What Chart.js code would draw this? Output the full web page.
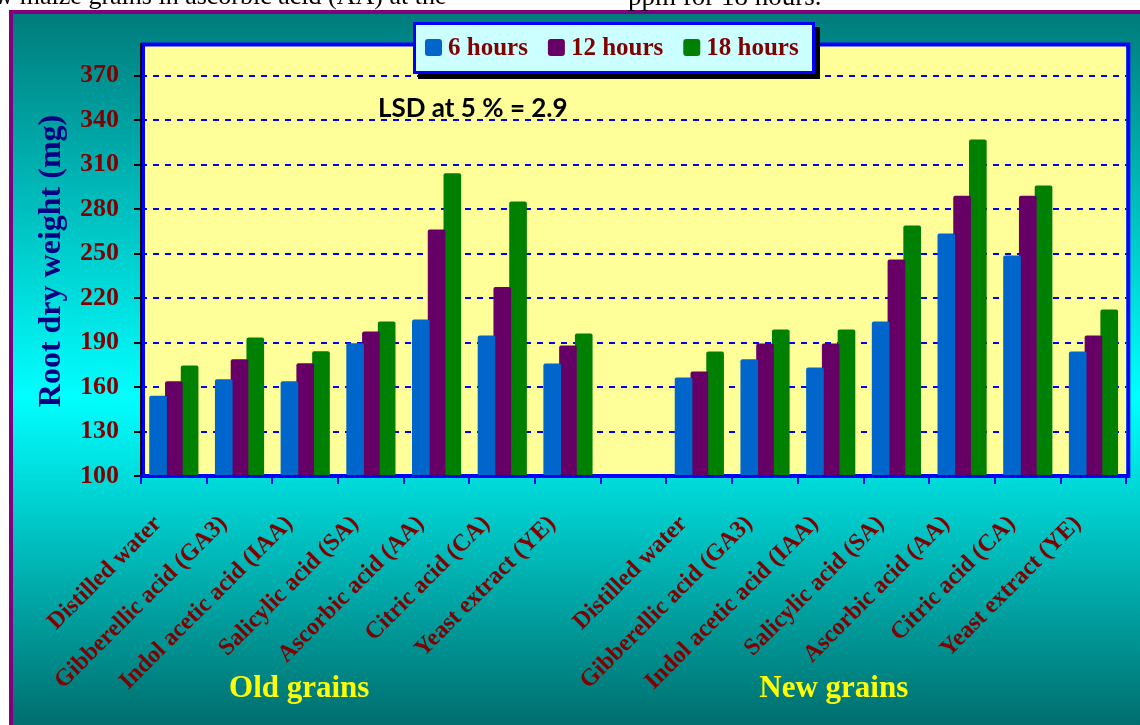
<!DOCTYPE html>
<html lang="en">

<head>
    <meta charset="UTF-8">
    <title>Root dry weight</title>
    <script src="https://cdn.jsdelivr.net/npm/chart.js"></script>
    <style>
        body { margin: 0; background: #ffffff; }
        .wrap { position: relative; width: 1140px; height: 725px; overflow: hidden; }
        .legenda-topo {
            position: absolute; top: -17px; white-space: nowrap;
            font-family: "Liberation Serif", "Times New Roman", serif; font-size: 26px; line-height: 26px; color: #000;
        }
    </style>
</head>

<body>
    <div class="wrap">
        <canvas id="graficoRaiz"></canvas>
        <div class="legenda-topo" style="left:-17px">ew maize grains in ascorbic acid (AA) at the</div>
        <div class="legenda-topo" style="left:628px; font-size:27px">ppm for 18 hours.</div>
    </div>

<script>
    // dados
    const tratamentos = ['Distilled water', 'Gibberellic acid (GA3)', 'Indol acetic acid (IAA)',
        'Salicylic acid (SA)', 'Ascorbic acid (AA)', 'Citric acid (CA)', 'Yeast extract (YE)'];
    const grupos = ['Old grains', 'New grains'];
    const series = ['6 hours', '12 hours', '18 hours'];

    const h6Old = [154.2, 165.3, 163.9, 189.6, 205.5, 194.7, 175.8];
    const h6New = [166.4, 178.8, 173.1, 204.2, 263.5, 248.7, 183.9];
    const h12Old = [163.9, 178.8, 176.1, 197.4, 266.2, 227.4, 188.0];
    const h12New = [170.4, 189.3, 189.3, 246.0, 289.0, 289.0, 194.7];
    const h18Old = [174.5, 193.4, 184.2, 204.2, 304.1, 285.2, 196.1];
    const h18New = [183.9, 198.8, 198.8, 268.9, 327.0, 296.0, 212.3];

    const yTicks = [100, 130, 160, 190, 220, 250, 280, 310, 340, 370];
    const lsdTexto = 'LSD at 5 % = 2.9';

    const labels = [...tratamentos, '', ...tratamentos];
    const juntar = (a, b) => [...a, null, ...b];

    const SERIF = '"Liberation Serif", "Times New Roman", serif';
    const coresBarras = ['#0066CC', '#660066', '#008000'];

    const fundoPlugin = {
        id: 'fundo',
        beforeDraw(chart) {
            const ctx = chart.ctx;
            const a = chart.chartArea;
            ctx.save();
            ctx.fillStyle = '#ffffff';
            ctx.fillRect(0, 0, chart.width, chart.height);
            const g = ctx.createLinearGradient(0, 12, 0, chart.height);
            g.addColorStop(0, '#007b7b');
            g.addColorStop(0.54, '#00ffff');
            g.addColorStop(1, '#006e6e');
            ctx.fillStyle = g;
            ctx.fillRect(11, 12, chart.width, chart.height);
            ctx.strokeStyle = '#800080';
            ctx.lineWidth = 4;
            ctx.strokeRect(11, 12, chart.width + 10, chart.height + 10);
            ctx.fillStyle = '#ffff99';
            ctx.fillRect(a.left, a.top, a.right - a.left, a.bottom - a.top);
            ctx.restore();
        },
        beforeDatasetsDraw(chart) {
            const ctx = chart.ctx;
            const a = chart.chartArea;
            ctx.save();
            ctx.strokeStyle = '#0000ff';
            ctx.lineWidth = 4;
            ctx.strokeRect(a.left + 2, a.top - 1.5, a.right - a.left, a.bottom - a.top + 1.5);
            ctx.strokeStyle = '#000000';
            ctx.lineWidth = 2;
            ctx.beginPath();
            ctx.moveTo(a.left, a.top - 3);
            ctx.lineTo(a.left, a.bottom + 2);
            ctx.stroke();
            ctx.restore();
        },
        afterDraw(chart) {
            const ctx = chart.ctx;
            const x = chart.scales.x;
            ctx.save();

            // LSD
            ctx.fillStyle = '#000000';
            ctx.font = 'bold 26px Lato, "Open Sans", sans-serif';
            ctx.textAlign = 'left';
            ctx.textBaseline = 'alphabetic';
            ctx.fillText(lsdTexto, 378, 117);

            // grupos
            ctx.fillStyle = '#ffff00';
            ctx.font = 'bold 31px ' + SERIF;
            ctx.textAlign = 'center';
            ctx.textBaseline = 'middle';
            ctx.fillText(grupos[0], x.getPixelForValue(2) - 6, 689);
            ctx.fillText(grupos[1], x.getPixelForValue(10) + 3, 689);

            // legenda
            const bx = 413, by = 22, bw = 402, bh = 52;
            ctx.fillStyle = '#000000';
            ctx.fillRect(bx + 5, by + 5, bw, bh);
            ctx.fillStyle = '#ccffff';
            ctx.fillRect(bx, by, bw, bh);
            ctx.strokeStyle = '#0000ff';
            ctx.lineWidth = 3;
            ctx.strokeRect(bx + 1.5, by + 1.5, bw - 3, bh - 3);
            ctx.font = 'bold 25px ' + SERIF;
            ctx.textAlign = 'left';
            ctx.textBaseline = 'middle';
            let px = 425;
            chart.data.datasets.forEach(ds => {
                ctx.fillStyle = ds.backgroundColor;
                ctx.beginPath();
                ctx.roundRect(px, 39, 17, 17, 3);
                ctx.fill();
                px += 17 + 6;
                ctx.fillStyle = '#800000';
                ctx.fillText(ds.label, px, 49);
                px += ctx.measureText(ds.label).width + 20;
            });
            ctx.restore();
        }
    };

    const ctx = document.getElementById('graficoRaiz').getContext('2d');

    new Chart(ctx, {
        type: 'bar',
        data: {
            labels: labels,
            datasets: [
                { label: series[0], data: juntar(h6Old, h6New), backgroundColor: coresBarras[0] },
                { label: series[1], data: juntar(h12Old, h12New), backgroundColor: coresBarras[1] },
                { label: series[2], data: juntar(h18Old, h18New), backgroundColor: coresBarras[2] }
            ]
        },
        options: {
            responsive: true,
            maintainAspectRatio: false,
            animation: false,
            categoryPercentage: 0.72,
            barPercentage: 1.12,
            borderRadius: { topLeft: 2, topRight: 2 },
            layout: { padding: { top: 46, right: 5, left: 0, bottom: 0 } },
            plugins: {
                legend: { display: false },
                tooltip: { enabled: false }
            },
            scales: {
                x: {
                    afterFit(scale) { scale.height = 249; },
                    grid: {
                        drawOnChartArea: false,
                        color: '#0000ff',
                        tickLength: 8,
                        lineWidth: 2
                    },
                    border: { color: '#0000ff', width: 3, z: 1 },
                    ticks: {
                        autoSkip: false,
                        maxRotation: 45,
                        minRotation: 45,
                        padding: 26,
                        labelOffset: -16,
                        color: '#800000',
                        font: { family: SERIF, size: 24, weight: 'bold' }
                    }
                },
                y: {
                    min: 100,
                    max: 390,
                    afterFit(scale) { scale.width = 141; },
                    afterBuildTicks(scale) { scale.ticks = yTicks.map(v => ({ value: v })); },
                    grid: {
                        color: '#0000ff',
                        lineWidth: 2,
                        tickColor: '#000000',
                        tickLength: 7,
                        tickWidth: 2
                    },
                    border: { display: false, dash: [6, 6] },
                    ticks: {
                        padding: 15,
                        color: '#800000',
                        font: { family: SERIF, size: 26, weight: 'bold' }
                    },
                    title: {
                        display: true,
                        text: 'Root dry weight (mg)',
                        color: '#000080',
                        padding: { top: 33, bottom: 0 },
                        font: { family: SERIF, size: 32, weight: 'bold' }
                    }
                }
            }
        },
        plugins: [fundoPlugin]
    });
</script>

</body>

</html>
